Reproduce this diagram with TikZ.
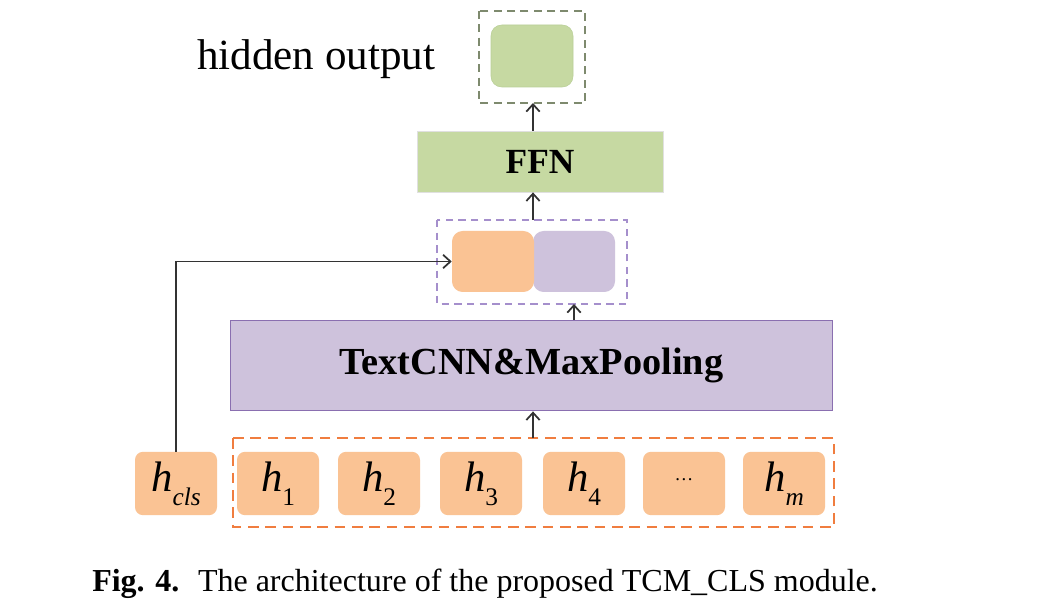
\documentclass[tikz,border=0pt]{standalone}
\usepackage{fontspec}
\setmainfont{Liberation Serif}
\usetikzlibrary{arrows.meta}
\definecolor{gfill}{HTML}{C6D9A2}
\definecolor{gline}{HTML}{9BBB6A}
\definecolor{gdash}{HTML}{7E8A6E}
\definecolor{ofill}{HTML}{FAC394}
\definecolor{odash}{HTML}{F07D3F}
\definecolor{pfill}{HTML}{CEC2DC}
\definecolor{pline}{HTML}{8A6FB0}
\definecolor{pdash}{HTML}{A58FCC}
\definecolor{arr}{HTML}{333333}
\newcommand\hsub[1]{\textit{h}\raisebox{-0.7ex}{\fontsize{19}{19}\selectfont #1}}
\begin{document}
\begin{tikzpicture}[x=0.75pt,y=-0.75pt,
  hbox/.style={fill=ofill,rounded corners=6pt,inner sep=0pt,minimum width=61.5pt,minimum height=47.5pt,font=\fontsize{32}{32}\selectfont},
  link/.style={draw=arr,line width=1.3pt,-{Straight Barb[length=5.5pt,width=10pt,line width=1.3pt]}},
  dashbox/.style={draw=#1,line width=1.1pt}]
\useasboundingbox (0,0) rectangle (1048,616);
\fill[white] (0,0) rectangle (1048,616);
% hidden output
\node[anchor=base west,inner sep=0pt,font=\fontsize{32.3}{32}\selectfont] (hl) at (197,70) {hidden output};
\draw[dashbox=gdash,dash pattern=on 6pt off 4pt] (479,11) rectangle (585,103);
\coordinate (hobot) at (533,103);
\node[fill=gfill,draw=gline!70,line width=0.4pt,rounded corners=8pt,minimum width=61.5pt,minimum height=46.5pt,inner sep=0pt] (ho) at (532,56) {};
% FFN
\node[fill=gfill,draw=black!12,line width=0.6pt,minimum width=184.5pt,minimum height=45.75pt,inner sep=0pt,font=\fontsize{26.5}{26}\selectfont\bfseries] (ffn) at (540,161.5) {FFN};
\draw[link] (ffn.north -| hobot) -- (hobot);
% concat
\draw[dashbox=pdash,dash pattern=on 5.5pt off 4pt] (437,220) rectangle (627,304);
\coordinate (cctop) at (533,220);
\coordinate (ccbot) at (574,304);
\node[fill=pfill,rounded corners=8pt,minimum width=61.5pt,minimum height=45.75pt,inner sep=0pt] (cp) at (574,261.5) {};
\node[fill=ofill,rounded corners=8pt,minimum width=61.5pt,minimum height=45.75pt,inner sep=0pt] (co) at (493,261.5) {};
\draw[link] (cctop) -- (cctop |- ffn.south);
% TextCNN
\node[fill=pfill,draw=pline,line width=0.9pt,minimum width=452pt,minimum height=68pt,inner sep=0pt,font=\fontsize{28.7}{28}\selectfont\bfseries] (cnn) at (531.5,365.5) {TextCNN\&MaxPooling};
\draw[link] (ccbot |- cnn.north) -- (ccbot);
% tokens
\draw[dashbox=odash,dash pattern=on 8pt off 5pt] (233,438) rectangle (834,527);
\coordinate (tktop) at (533,438);
\draw[link] (tktop) -- (tktop |- cnn.south);
\node[hbox] (hc) at (176,483.5) {\hsub{\itshape cls}};
\node[hbox] (h1) at (278,483.5) {\hsub{1}};
\node[hbox] (h2) at (379,483.5) {\hsub{2}};
\node[hbox] (h3) at (481,483.5) {\hsub{3}};
\node[hbox] (h4) at (584,483.5) {\hsub{4}};
\node[hbox,font=\fontsize{14}{14}\selectfont] (hd) at (684,483.5) {\raisebox{1ex}{\dots}};
\node[hbox] (hm) at (784,483.5) {\hsub{\itshape m}};
\draw[link] (hc.north) |- (co.west);
% caption
\node[anchor=base west,inner sep=0pt,font=\fontsize{24}{24}\selectfont] (cap) at (92,591) {\textbf{Fig. 4.}\hspace{0.25em} The architecture of the proposed TCM\_CLS module.};
\end{tikzpicture}
\end{document}
